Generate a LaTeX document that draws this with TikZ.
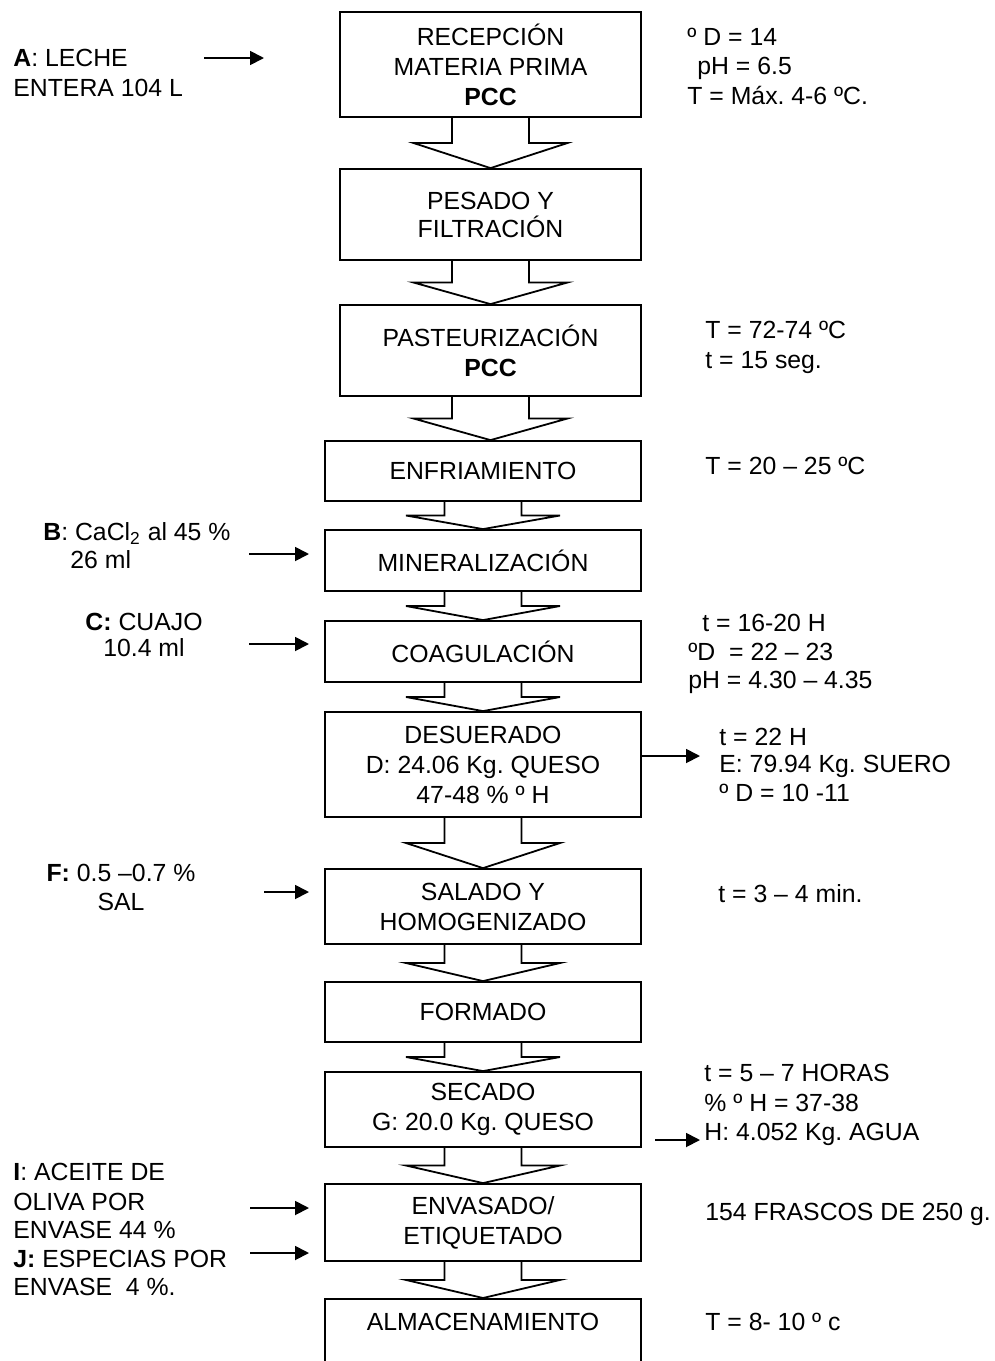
\documentclass[tikz,border=0pt]{standalone}
\usepackage{fontspec}
\setmainfont{Liberation Sans}
\usetikzlibrary{arrows.meta,calc}
\frenchspacing
\newcommand\fs{\fontsize{12.4}{15}\selectfont\frenchspacing}
\tikzset{
  stepbox/.style={draw, line width=0.9pt, rectangle, inner sep=0pt, align=center, font=\fs},
  lbl/.style={anchor=base west, inner sep=0pt, font=\fs},
  clbl/.style={anchor=base, inner sep=0pt, font=\fs},
  flow/.style={draw, line width=0.9pt, -{Triangle[length=7pt,width=7pt]}},
  blk/.style={draw, line width=0.9pt, line join=miter},
}
\newcommand\barrow[2]{\draw[blk] let \p1=(#1.south), \p2=(#2.north) in
  (\x1-19.25pt,\y1) -- (\x1-19.25pt,{0.5*\y1+0.5*\y2}) -- (\x1-38.5pt,{0.5*\y1+0.5*\y2})
  -- (\x1,\y2) -- (\x1+38.5pt,{0.5*\y1+0.5*\y2}) -- (\x1+19.25pt,{0.5*\y1+0.5*\y2})
  -- (\x1+19.25pt,\y1);}
\begin{document}
\begin{tikzpicture}[x=0.5pt,y=-0.5pt]
\useasboundingbox (0,0) rectangle (995,1361);
\clip (0,0) rectangle (995,1361);
\fill[white] (0,0) rectangle (995,1361);

% process boxes
\node[stepbox, minimum width=150.5pt, minimum height=52.5pt] (b1) at (490.5,64.5) {RECEPCIÓN\\MATERIA PRIMA\\\textbf{PCC}};
\node[stepbox, minimum width=150.5pt, minimum height=45.5pt] (b2) at (490.5,214.5) {PESADO Y\\[-1pt]FILTRACIÓN};
\node[stepbox, minimum width=150.5pt, minimum height=45.5pt] (b3) at (490.5,350.5) {PASTEURIZACIÓN\\\textbf{PCC}};
\node[stepbox, minimum width=158pt, minimum height=30pt] (b4) at (483,471) {ENFRIAMIENTO};
\node[stepbox, minimum width=158pt, minimum height=30.5pt] (b5) at (483,560.5) {MINERALIZACIÓN};
\node[stepbox, minimum width=158pt, minimum height=30.5pt] (b6) at (483,651.5) {COAGULACIÓN};
\node[stepbox, minimum width=158pt, minimum height=52.5pt] (b7) at (483,764.5) {DESUERADO\\D: 24.06 Kg. QUESO\\47-48 \% º H};
\node[stepbox, minimum width=158pt, minimum height=37.5pt] (b8) at (483,906.5) {SALADO Y\\HOMOGENIZADO};
\node[stepbox, minimum width=158pt, minimum height=30pt] (b9) at (483,1012) {FORMADO};
\node[stepbox, minimum width=158pt, minimum height=37.5pt] (b10) at (483,1109.5) {SECADO\\G: 20.0 Kg. QUESO};
\node[stepbox, minimum width=158pt, minimum height=38.5pt] (b11) at (483,1222.5) {ENVASADO/\\ETIQUETADO};
\node[stepbox, anchor=north, minimum width=158pt, minimum height=60pt] (b12) at (483,1298) {};
\node[clbl] (t12) at (483,1330.5) {ALMACENAMIENTO};

% block arrows
\barrow{b1}{b2}
\barrow{b2}{b3}
\barrow{b3}{b4}
\barrow{b4}{b5}
\barrow{b5}{b6}
\barrow{b6}{b7}
\barrow{b7}{b8}
\barrow{b8}{b9}
\barrow{b9}{b10}
\barrow{b10}{b11}
\barrow{b11}{b12}

% left inputs
\node[lbl] (la1) at (13,66.5) {\textbf{A}: LECHE};
\node[lbl] (la2) at (13,96.5) {ENTERA 104 L};
\coordinate (a0) at (204,58); \coordinate (a1) at (264,58);
\draw[flow] (a0) -- (a1);

\node[lbl] (lb1) at (43,540.5) {\textbf{B}: CaCl\textsubscript{2} al 45 \%};
\node[lbl] (lb2) at (70,568.5) {26 ml};
\coordinate (bb0) at (249,554); \coordinate (bb1) at (309,554);
\draw[flow] (bb0) -- (bb1);

\node[clbl] (lc1) at (144,630.5) {\textbf{C:} CUAJO};
\node[clbl] (lc2) at (144,656.5) {10.4 ml};
\coordinate (c0) at (249,644); \coordinate (c1) at (309,644);
\draw[flow] (c0) -- (c1);

\node[clbl] (lf1) at (121,881.5) {\textbf{F:} 0.5 –0.7 \%};
\node[clbl] (lf2) at (121,910.5) {SAL};
\coordinate (f0) at (264,892); \coordinate (f1) at (309,892);
\draw[flow] (f0) -- (f1);

\node[lbl] (li1) at (13,1180.5) {\textbf{I}: ACEITE DE};
\node[lbl] (li2) at (13,1210.5) {OLIVA POR};
\node[lbl] (li3) at (13,1238.5) {ENVASE 44 \%};
\node[lbl] (lj1) at (13,1267.5) {\textbf{J:} ESPECIAS POR};
\node[lbl] (lj2) at (13,1295.5) {ENVASE\ \ 4 \%.};
\coordinate (i0) at (250,1208); \coordinate (i1) at (309,1208);
\coordinate (j0) at (250,1253); \coordinate (j1) at (309,1253);
\draw[flow] (i0) -- (i1);
\draw[flow] (j0) -- (j1);

% right side data
\node[lbl] (r11) at (687,45.5) {º D = 14};
\node[lbl] (r12) at (697,74.5) {pH = 6.5};
\node[lbl] (r13) at (687,104.5) {T = Máx. 4-6 ºC.};

\node[lbl] (r31) at (705,338.5) {T = 72-74 ºC};
\node[lbl] (r32) at (705,368.5) {t = 15 seg.};

\node[lbl] (r41) at (705,474.5) {T = 20 – 25 ºC};

\node[lbl] (r61) at (702,631.5) {t = 16-20 H};
\node[lbl] (r62) at (688,660.5) {ºD\ \ = 22 – 23};
\node[lbl] (r63) at (688,688.5) {pH = 4.30 – 4.35};

\coordinate (e7) at (700,756);
\draw[flow] (b7.east |- e7) -- (e7);
\node[lbl] (r71) at (719,745.5) {t = 22 H};
\node[lbl] (r72) at (719,772.5) {E: 79.94 Kg. SUERO};
\node[lbl] (r73) at (719,801.5) {º D = 10 -11};

\node[lbl] (r81) at (718,902.5) {t = 3 – 4 min.};

\node[lbl] (r101) at (704,1081.5) {t = 5 – 7 HORAS};
\node[lbl] (r102) at (704,1111.5) {\% º H = 37-38};
\node[lbl] (r103) at (704,1140.5) {H: 4.052 Kg. AGUA};
\coordinate (h0) at (655,1140); \coordinate (h1) at (700,1140);
\draw[flow] (h0) -- (h1);

\node[lbl] (r111) at (705,1220.5) {154 FRASCOS DE 250 g.};
\node[lbl] (r121) at (705,1330.5) {T = 8- 10 º c};
\end{tikzpicture}
\end{document}
